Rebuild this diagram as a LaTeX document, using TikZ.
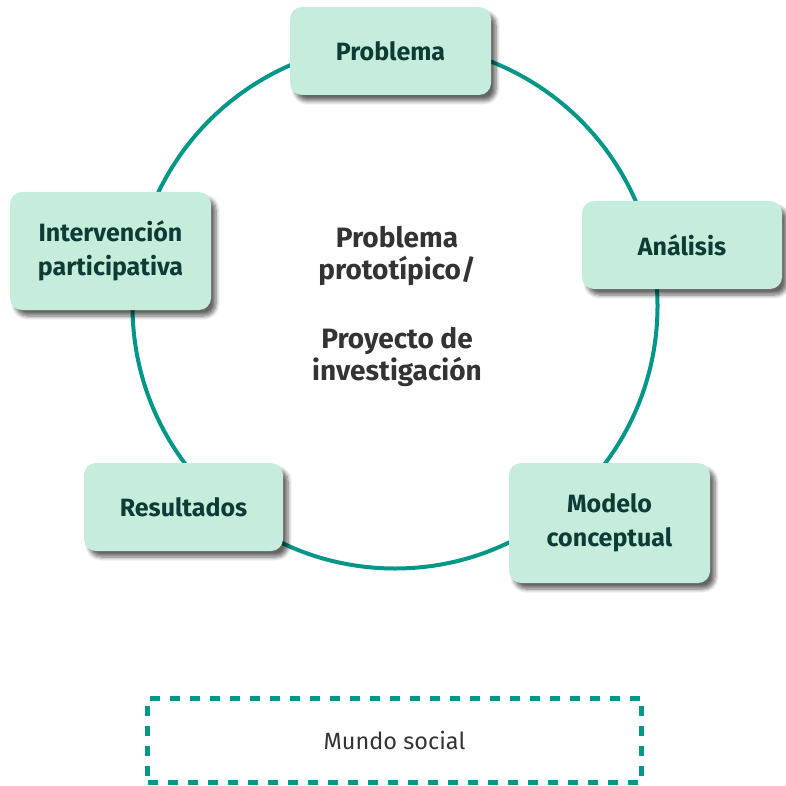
\documentclass[tikz,border=0pt]{standalone}
\usepackage{fontspec}
\setmainfont{Fira Sans}
\usetikzlibrary{shadows.blur}
\definecolor{boxfill}{HTML}{C6EDDC}
\definecolor{boxtext}{HTML}{0D3B36}
\definecolor{ringcol}{HTML}{009688}
\definecolor{centertext}{HTML}{333333}
\tikzset{
  stagebox/.style={rectangle, rounded corners=12pt, fill=boxfill,
    text=boxtext, font=\fontsize{25}{34}\selectfont\bfseries, align=center,
    minimum width=201pt, inner sep=0pt,
    blur shadow={shadow xshift=5pt, shadow yshift=-6pt, shadow blur steps=6,
      shadow blur radius=4pt, shadow opacity=60}},
  ring/.style={draw=ringcol, line width=4pt},
  worldbox/.style={draw=ringcol, line width=5pt, dash pattern=on 10pt off 10pt,
    minimum width=494pt, minimum height=84pt, inner sep=0pt,
    text=centertext, font=\fontsize{23.5}{28}\selectfont},
  hubtext/.style={text=centertext, align=center,
    font=\fontsize{28}{32}\selectfont\bfseries}
}
\begin{document}
\begin{tikzpicture}[x=1pt,y=-1pt]
\useasboundingbox (0,0) rectangle (785,786);
\node[circle, ring, minimum size=525pt, inner sep=0pt] (ringc) at (395,306) {};
\node[stagebox, minimum height=88pt] (prob) at (390.5,51) {Problema};
\node[stagebox, minimum height=88pt, minimum width=200pt] (anal) at (682,245) {Análisis};
\node[stagebox, minimum height=120pt] (mod) at (609.5,523) {Modelo\\conceptual};
\node[stagebox, minimum height=88pt, minimum width=199pt] (res) at (183.5,507) {Resultados};
\node[stagebox, minimum height=118pt] (int) at (110.5,251) {Intervención\\participativa};
\node[hubtext] (hub) at (397,306) {Problema\\prototípico/\\[37pt]Proyecto de\\investigación};
\node[worldbox] (world) at (394.5,740) {Mundo social};
\end{tikzpicture}
\end{document}
